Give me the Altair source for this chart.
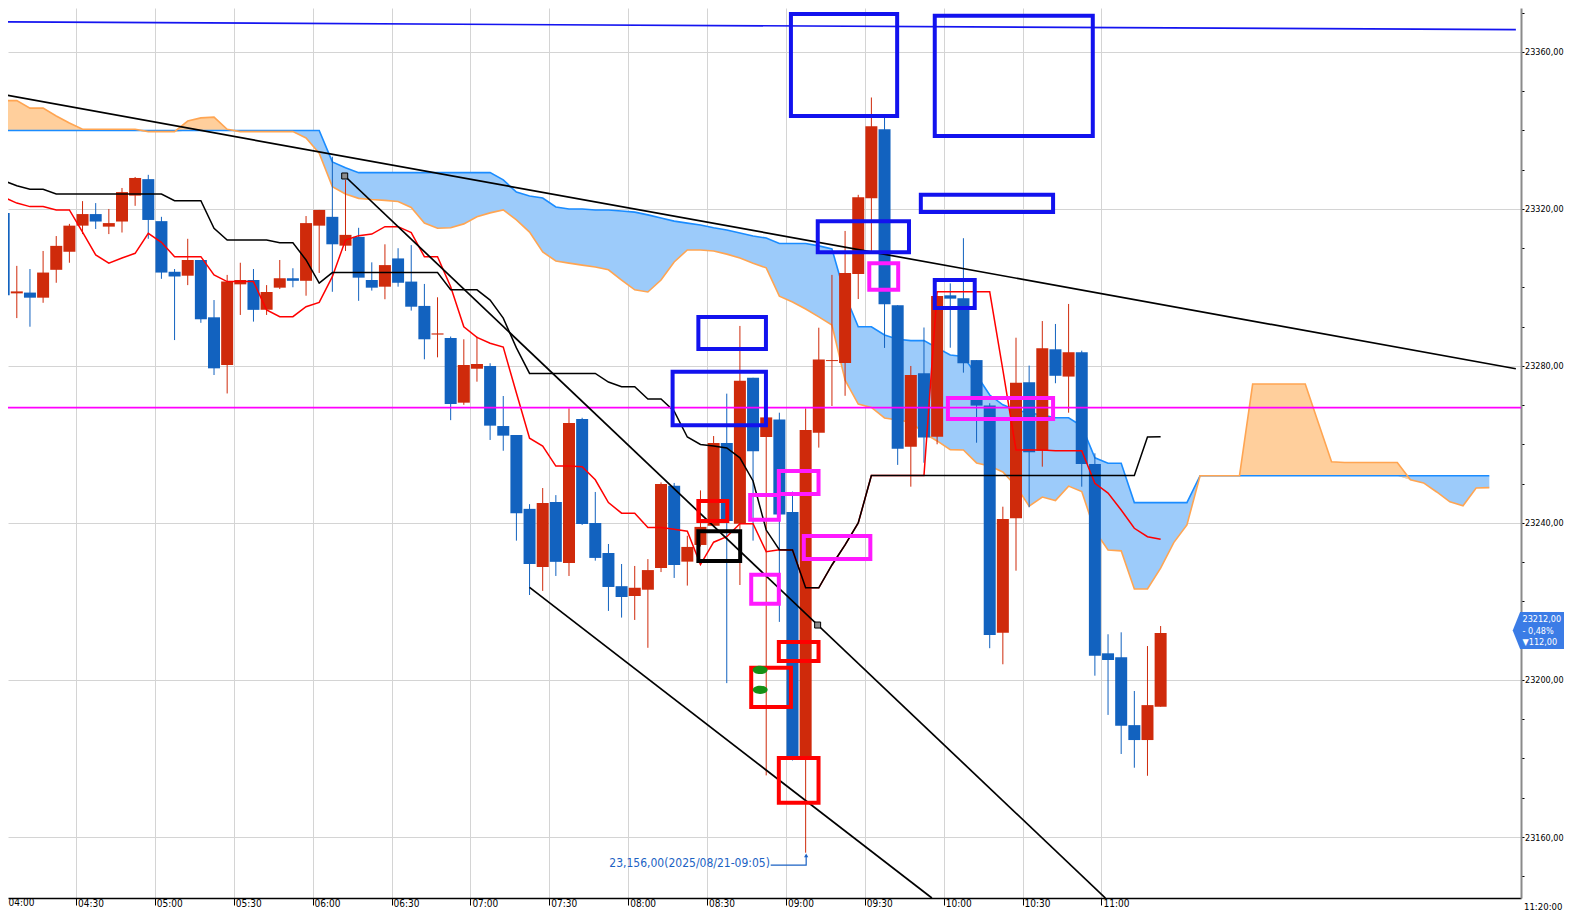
import altair as alt
import pandas as pd

# ---------------- data (5-minute bars, 2025/08/21 04:00-11:20) -------------
opens = [23319.0, 23298.5, 23298.7, 23297.4, 23304.5, 23309.1, 23315.75, 23318.7, 23315.5, 23316.8,
         23323.4, 23327.6, 23316.9, 23304.0, 23303.0, 23307.0, 23292.4, 23280.25, 23300.8, 23301.9,
         23294.3, 23299.95, 23302.35, 23301.7, 23315.75, 23318.0, 23310.65, 23312.9, 23301.9, 23300.2,
         23307.4, 23301.5, 23295.3, 23288.0, 23287.1, 23270.65, 23279.3, 23280.0, 23264.7, 23262.4,
         23243.6, 23228.8, 23245.35, 23229.8, 23266.5, 23240.0, 23232.35, 23223.9, 23221.4, 23223.0,
         23228.55, 23249.5, 23230.15, 23234.4, 23239.3, 23260.4, 23239.8, 23277.0, 23261.9, 23266.35,
         23242.8, 23180.25, 23263.0, 23281.25, 23280.75, 23303.45, 23322.75, 23340.3, 23295.5, 23259.45,
         23278.15, 23262.0, 23298.0, 23297.25, 23281.5, 23269.9, 23212.05, 23241.2, 23275.85, 23258.4,
         23284.25, 23277.3, 23283.5, 23255.0, 23206.8, 23205.8, 23188.5, 23184.7, 23193.2]
highs = [23320.0, 23305.5, 23304.7, 23309.3, 23313.1, 23316.2, 23322.0, 23321.5, 23320.0, 23325.35,
         23328.15, 23328.7, 23318.0, 23304.7, 23312.4, 23307.0, 23296.8, 23303.2, 23306.3, 23304.7,
         23300.6, 23307.0, 23304.9, 23318.2, 23319.75, 23333.3, 23327.4, 23315.2, 23306.4, 23311.0,
         23310.0, 23310.8, 23300.9, 23297.5, 23287.5, 23286.8, 23287.5, 23280.7, 23272.35, 23262.4,
         23244.8, 23248.9, 23247.1, 23269.2, 23266.8, 23247.9, 23234.65, 23229.55, 23229.05, 23230.8,
         23250.35, 23250.2, 23236.75, 23248.3, 23262.15, 23272.95, 23290.2, 23277.0, 23266.9, 23268.1,
         23248.0, 23269.2, 23289.75, 23303.2, 23314.4, 23323.6, 23348.4, 23343.25, 23295.5, 23280.0,
         23289.8, 23297.85, 23301.05, 23312.55, 23281.5, 23270.5, 23244.15, 23287.2, 23280.1, 23291.45,
         23290.7, 23295.8, 23283.9, 23257.75, 23211.65, 23212.15, 23197.2, 23208.65, 23213.75]
lows = [23297.0, 23292.2, 23290.0, 23296.1, 23301.2, 23306.3, 23313.6, 23314.9, 23313.6, 23314.0,
        23320.8, 23312.4, 23302.2, 23286.6, 23300.6, 23291.0, 23277.7, 23273.0, 23293.0, 23291.3,
        23293.0, 23299.6, 23300.05, 23297.9, 23303.7, 23298.9, 23309.3, 23296.6, 23299.2, 23297.0,
        23300.2, 23294.1, 23281.7, 23282.2, 23266.2, 23270.1, 23276.0, 23261.15, 23258.4, 23235.5,
        23221.65, 23222.7, 23226.5, 23226.5, 23239.5, 23230.4, 23217.6, 23215.9, 23215.3, 23208.2,
        23227.5, 23226.0, 23224.05, 23234.0, 23239.1, 23199.2, 23224.2, 23235.5, 23175.7, 23214.8,
        23179.5, 23156.0, 23259.2, 23269.8, 23272.4, 23297.05, 23309.0, 23284.6, 23254.8, 23249.25,
        23255.35, 23260.05, 23284.65, 23278.3, 23260.45, 23208.1, 23204.0, 23227.85, 23244.0, 23254.35,
        23275.6, 23268.1, 23249.25, 23201.1, 23191.1, 23181.15, 23177.65, 23175.6, 23193.2]
closes = [23298.0, 23299.0, 23297.4, 23303.8, 23310.6, 23315.75, 23318.7, 23316.8, 23316.4, 23324.3,
          23327.9, 23317.2, 23303.8, 23302.8, 23307.0, 23291.9, 23279.4, 23301.5, 23301.9, 23294.3,
          23298.85, 23302.35, 23301.7, 23316.4, 23319.75, 23311.0, 23313.4, 23302.5, 23299.95, 23305.7,
          23301.2, 23295.1, 23286.8, 23288.3, 23270.3, 23280.25, 23280.5, 23264.8, 23262.25, 23242.5,
          23229.55, 23245.1, 23230.1, 23265.5, 23239.75, 23231.1, 23223.7, 23221.15, 23223.5, 23228.0,
          23249.95, 23229.3, 23233.9, 23239.0, 23260.4, 23240.5, 23276.25, 23258.3, 23266.9, 23242.15,
          23180.25, 23263.7, 23281.65, 23281.5, 23303.7, 23323.0, 23341.05, 23295.75, 23258.9, 23277.7,
          23261.75, 23297.85, 23297.15, 23280.7, 23269.9, 23211.45, 23241.0, 23275.7, 23258.0, 23284.5,
          23277.5, 23283.5, 23255.0, 23206.2, 23205.1, 23188.35, 23184.7, 23193.6, 23212.0]

# Ichimoku conversion line (red) and base line (black), one value per bar
tenkan = [23323.0, 23321.5, 23320.6, 23320.6, 23319.75, 23319.75, 23314.1, 23308.3, 23306.2, 23307.5,
          23308.7, 23313.8, 23311.5, 23307.85, 23307.85, 23307.85, 23303.2, 23301.5, 23301.5, 23301.5,
          23294.3, 23292.55, 23292.55, 23295.1, 23296.2, 23302.75, 23312.1, 23313.2, 23313.6, 23315.5,
          23315.5, 23314.0, 23307.85, 23307.85, 23300.2, 23290.0, 23287.3, 23285.8, 23284.8, 23273.1,
          23261.6, 23259.6, 23254.5, 23254.5, 23254.35, 23251.0, 23245.2, 23242.5, 23242.5, 23238.85,
          23238.85, 23238.4, 23237.9, 23229.4, 23235.1, 23236.5, 23239.8, 23239.8, 23232.7, 23233.2,
          23233.1, 23223.5, 23223.5, 23229.3, 23234.4, 23240.0, 23252.1, 23252.1, 23252.1, 23252.1,
          23252.1, 23298.9, 23298.9, 23298.9, 23298.9, 23298.9, 23279.0, 23258.6, 23258.6, 23258.6,
          23258.4, 23258.4, 23258.4, 23250.1, 23247.6, 23243.3, 23238.65, 23236.5, 23235.85]
kijun = [23327.2, 23325.9, 23325.0, 23325.0, 23323.8, 23323.8, 23323.8, 23323.8, 23323.8, 23323.8,
         23323.8, 23323.8, 23323.8, 23322.1, 23322.1, 23322.1, 23315.1, 23312.1, 23312.1, 23312.1,
         23312.1, 23311.4, 23311.4, 23307.0, 23301.1, 23303.8, 23303.8, 23303.8, 23303.8, 23303.8,
         23303.8, 23303.8, 23303.8, 23303.8, 23299.4, 23299.4, 23299.4, 23296.8, 23292.2, 23284.6,
         23278.1, 23278.1, 23278.1, 23278.1, 23278.1, 23278.1, 23275.9, 23274.7, 23274.7, 23271.6,
         23271.6, 23268.5, 23261.9, 23260.0, 23259.6, 23259.1, 23256.6, 23250.7, 23238.2, 23233.2,
         23233.1, 23223.5, 23223.5, 23229.3, 23234.4, 23240.0, 23252.1, 23252.1, 23252.1, 23252.1,
         23252.1, 23252.1, 23252.1, 23252.1, 23252.1, 23252.1, 23252.1, 23252.1, 23252.1, 23252.1,
         23252.1, 23252.1, 23252.1, 23252.1, 23252.1, 23252.1, 23252.1, 23261.9, 23262.0]

# Leading spans (cloud), drawn 25 bars beyond the last candle
span_a = [23340.0] * 10 + [23340.0] * 10 + \
         [23340.0, 23340.0, 23340.0, 23340.0, 23340.0, 23332.0, 23330.5, 23329.25, 23329.25, 23329.25,
          23329.25, 23329.25, 23329.25, 23329.25, 23329.25, 23329.25, 23329.25, 23329.25, 23327.4, 23324.3,
          23323.3, 23322.8, 23320.5, 23320.0, 23320.0, 23319.75, 23319.75, 23319.5, 23319.2, 23318.5,
          23317.7, 23316.9, 23316.4, 23315.9, 23315.2, 23314.65, 23313.9, 23313.1, 23312.6, 23311.2,
          23311.2, 23311.2, 23310.6, 23309.8, 23298.1, 23290.0, 23290.0, 23287.9, 23286.8, 23286.45,
          23286.45, 23284.6, 23282.8, 23282.4, 23277.7, 23272.6, 23270.1, 23268.8, 23268.0, 23267.5,
          23266.8, 23266.8, 23264.7, 23256.6, 23255.2, 23255.2, 23245.2, 23245.2, 23245.2, 23245.2,
          23245.2, 23252.05, 23252.05, 23252.05, 23252.05, 23252.05, 23252.05, 23252.05, 23252.05, 23252.05,
          23252.05, 23252.05, 23252.05, 23252.05, 23252.05, 23252.05, 23252.05, 23252.05, 23252.05, 23252.05,
          23252.05, 23252.05, 23252.05, 23252.05]
span_b = [23347.6, 23347.6, 23345.7, 23345.7, 23343.7, 23341.9, 23340.3, 23340.3, 23340.3, 23340.3,
          23340.3, 23339.7, 23339.7, 23339.7, 23342.4, 23343.2, 23343.4, 23340.3, 23339.7, 23339.7,
          23339.7, 23339.7, 23339.7, 23338.1, 23334.2, 23325.7, 23323.8, 23322.7, 23322.4, 23322.2,
          23321.9, 23320.4, 23316.4, 23315.1, 23315.2, 23316.2, 23318.0, 23319.0, 23319.75, 23317.2,
          23314.1, 23309.05, 23306.75, 23306.2, 23305.7, 23305.2, 23304.5, 23301.9, 23299.4, 23298.85,
          23301.9, 23306.5, 23309.55, 23309.55, 23309.3, 23308.5, 23307.5, 23306.2, 23305.0, 23297.8,
          23296.3, 23294.5, 23292.5, 23290.45, 23276.4, 23270.3, 23269.45, 23266.75, 23266.25, 23265.7,
          23262.9, 23260.9, 23258.7, 23258.6, 23255.3, 23254.5, 23253.0, 23249.4, 23244.3, 23246.6,
          23245.7, 23249.4, 23248.0, 23238.0, 23233.1, 23232.9, 23223.2, 23223.2, 23228.5, 23235.0,
          23239.5, 23252.05, 23252.05, 23252.05, 23252.05, 23275.4, 23275.4, 23275.4, 23275.4, 23275.4,
          23265.5, 23255.6, 23255.4, 23255.4, 23255.4, 23255.4, 23255.4, 23251.0, 23250.2, 23247.9,
          23245.4, 23244.4, 23248.9, 23249.0]

# tick values: minutes after 04:00 for the time axis, prices for the price axis
x_ticks = [30, 60, 90, 120, 150, 180, 210, 240, 270, 300, 330, 360, 390, 420]
y_ticks = [23150, 23160, 23170, 23180, 23190, 23200, 23210, 23220, 23230, 23240, 23250, 23260,
           23270, 23280, 23290, 23300, 23310, 23320, 23330, 23340, 23350, 23360, 23370]

# drawn trend lines (minutes after 04:00, price)
trend_id = ["top", "top", "long", "long", "chan", "chan", "low", "low"]
trend_min = [3.03, 577.6, 3.03, 577.6, 132.2, 421.5, 202.5, 355.5]
trend_price = [23367.65, 23365.7, 23349.05, 23279.3, 23328.4, 23144.45, 23223.6, 23144.45]
trend_col = ["#1414f0", "#1414f0", "#000000", "#000000", "#000000", "#000000", "#000000", "#000000"]
anchor_min = [132.2, 312.06]
anchor_price = [23328.4, 23214.0]
hline_price = 23269.4

# hand-drawn annotation boxes (minutes after 04:00, prices)
box_x1 = [301.9, 356.6, 351.3, 312.1, 356.6, 266.7, 256.9, 331.7, 361.6, 297.3, 286.4, 306.8, 286.8,
          266.7, 297.3, 286.8, 297.3, 266.7]
box_x2 = [342.3, 416.7, 401.6, 346.8, 371.8, 292.4, 292.4, 342.7, 401.6, 312.4, 297.3, 332.1, 297.3,
          277.7, 312.4, 301.9, 312.4, 282.6]
box_top = [23369.7, 23369.2, 23323.6, 23316.9, 23301.9, 23292.5, 23278.5, 23306.2, 23271.85, 23253.25,
           23247.1, 23236.7, 23226.8, 23245.6, 23209.7, 23203.1, 23180.1, 23237.9]
box_bot = [23343.7, 23338.6, 23319.2, 23309.0, 23294.8, 23284.3, 23264.9, 23299.4, 23266.5, 23247.4,
           23240.8, 23230.8, 23219.4, 23240.5, 23204.85, 23193.1, 23168.7, 23230.3]
box_col = ["#1212ee"] * 7 + ["#ff1aff"] * 6 + ["#ff0000"] * 4 + ["#000000"]
dot_min = [290.2, 290.2]
dot_price = [23202.55, 23197.5]

low_label = "23,156,00(2025/08/21-09:05)"
last_lines = ["23212,00", "- 0,48%", "\u25bc112,00"]
last_price = 23212.6

# ---------------- chart ----------------
W, H = 1513, 890
FONT = "DejaVu Sans Condensed, DejaVu Sans, sans-serif"
UP, DOWN = "#cf2a0b", "#1262bf"

xs = alt.Scale(domain=[6.052, 577.65], nice=False, zero=False)
ys = alt.Scale(domain=[23144.46, 23371.2], nice=False, zero=False)

n = len(opens)
candles = pd.DataFrame({
    "m": [5 * i + 2.5 for i in range(n)],
    "time": [f"{4 + (5 * i) // 60:02d}:{(5 * i) % 60:02d}" for i in range(n)],
    "o": opens, "h": highs, "l": lows, "c": closes,
})
candles["col"] = [UP if c >= o else DOWN for o, c in zip(opens, closes)]
ind = pd.DataFrame({"m": [5 * i + 2.5 for i in range(n)], "tenkan": tenkan, "kijun": kijun})
cloud = pd.DataFrame({"m": [5 * i + 2.5 for i in range(len(span_a))], "a": span_a, "b": span_b})

x_axis = alt.Axis(values=x_ticks, title="", grid=True, gridColor="#d4d4d4", gridWidth=1,
                  domainColor="#000000", domainWidth=1.5, tickColor="#000000", tickSize=7,
                  labelExpr="timeFormat(datetime(2025, 7, 21, 4, datum.value), '%H:%M')",
                  labelAlign="left", labelBaseline="top", labelPadding=-7, labelOffset=1.5,
                  labelFont=FONT, labelFontSize=10, labelColor="#000000",
                  labelOverlap=False, labelFlush=False, labelBound=False)
y_axis = alt.Axis(values=y_ticks, orient="right", title="", grid=True, gridColor="#d4d4d4",
                  gridOpacity={"condition": {"test": "datum.value % 40 === 0", "value": 1}, "value": 0},
                  domainColor="#8a8a8a", domainWidth=2, tickColor="#000000", tickSize=3,
                  labelExpr="datum.value % 40 === 0 ? replace(format(datum.value, '.2f'), '.', ',') : ''",
                  labelAlign="left", labelBaseline="middle", labelPadding=0.5,
                  labelFont=FONT, labelFontSize=9, labelColor="#000000",
                  labelOverlap=False, labelFlush=False, labelBound=False)


def X(f):
    return alt.X(f, scale=xs, axis=x_axis)


def Y(f):
    return alt.Y(f, scale=ys, axis=y_axis)


cb = alt.Chart(cloud)
cloud_blue = cb.mark_area(color="#9ccbfa", opacity=1, clip=True).transform_calculate(
    lo="min(datum.a, datum.b)").encode(x=X("m:Q"), y=Y("a:Q"), y2="lo:Q")
cloud_orange = cb.mark_area(color="#ffcf9c", opacity=1, clip=True).transform_calculate(
    lo="min(datum.a, datum.b)").encode(x=X("m:Q"), y=Y("b:Q"), y2="lo:Q")
line_a = cb.mark_line(color="#1a8cff", strokeWidth=1.6, clip=True).encode(x=X("m:Q"), y=Y("a:Q"))
line_b = cb.mark_line(color="#ffa552", strokeWidth=1.6, clip=True).encode(x=X("m:Q"), y=Y("b:Q"))

cc = alt.Chart(candles)
wicks = cc.mark_rule(strokeWidth=1, clip=True).encode(
    x=X("m:Q"), y=Y("l:Q"), y2="h:Q", color=alt.Color("col:N", scale=None))
bodies = cc.mark_bar(size=12, clip=True).encode(
    x=X("m:Q"), y=Y("o:Q"), y2="c:Q", color=alt.Color("col:N", scale=None),
    tooltip=["time:N", "o:Q", "h:Q", "l:Q", "c:Q"])

ic = alt.Chart(ind)
red_line = ic.mark_line(color="#ff0000", strokeWidth=1.5, clip=True).encode(x=X("m:Q"), y=Y("tenkan:Q"))
black_line = ic.mark_line(color="#000000", strokeWidth=1.5, clip=True).encode(x=X("m:Q"), y=Y("kijun:Q"))

hline = alt.Chart(pd.DataFrame({"p": [hline_price]})).mark_rule(
    color="#ff00ff", strokeWidth=1.6).encode(y=Y("p:Q"))

trend = alt.Chart(pd.DataFrame({"id": trend_id, "m": trend_min, "p": trend_price, "col": trend_col})).mark_line(
    strokeWidth=1.7, clip=True).encode(x=X("m:Q"), y=Y("p:Q"), detail="id:N",
                                       color=alt.Color("col:N", scale=None))
anchors = alt.Chart(pd.DataFrame({"m": anchor_min, "p": anchor_price})).mark_point(
    shape="square", filled=True, fill="#8c8c8c", stroke="#000000", strokeWidth=1, size=36, opacity=1
).encode(x=X("m:Q"), y=Y("p:Q"))

boxes = alt.Chart(pd.DataFrame({"x1": box_x1, "x2": box_x2, "p1": box_top, "p2": box_bot,
                                "col": box_col})).mark_rect(fillOpacity=0, strokeWidth=4, clip=True).encode(
    x=X("x1:Q"), x2="x2:Q", y=Y("p1:Q"), y2="p2:Q", stroke=alt.Stroke("col:N", scale=None))
dots = alt.Chart(pd.DataFrame({"m": dot_min, "p": dot_price})).mark_point(
    shape="M-1,0A1,0.55 0 1,1 1,0A1,0.55 0 1,1 -1,0Z", filled=True, color="#159015", size=225, opacity=1
).encode(x=X("m:Q"), y=Y("p:Q"))

low_text = alt.Chart(pd.DataFrame({"m": [293.9], "p": [23153.4], "t": [low_label]})).mark_text(
    align="right", baseline="middle", font=FONT, fontSize=12, color="#1b62c4").encode(
    x=X("m:Q"), y=Y("p:Q"), text="t:N")
low_arrow = alt.Chart(pd.DataFrame({"m": [294.2, 307.7, 307.7], "p": [23152.86, 23152.86, 23155.0],
                                    "k": [0, 1, 2]})).mark_line(color="#1b62c4", strokeWidth=1.2).encode(
    x=X("m:Q"), y=Y("p:Q"), order="k:Q")
low_head = alt.Chart(pd.DataFrame({"m": [307.7], "p": [23155.3]})).mark_point(
    shape="triangle-up", filled=True, color="#1b62c4", size=18, opacity=1).encode(x=X("m:Q"), y=Y("p:Q"))

# current price tag on the price axis (kept inside the page width)
tag_box = alt.Chart(pd.DataFrame({"p1": [23217.3], "p2": [23207.9]})).mark_rect(
    color="#3b7ce6").encode(x=alt.value(1512), x2=alt.value(1556), y=Y("p1:Q"), y2="p2:Q")
tag_tip = alt.Chart(pd.DataFrame({"p": [last_price]})).mark_point(
    shape="M0.2,-1L-0.2,0L0.2,1Z", filled=True, color="#3b7ce6", size=1369, opacity=1).encode(
    x=alt.value(1508.4), y=Y("p:Q"))
tag_text = alt.Chart(pd.DataFrame({"p": [last_price] * 3, "t": last_lines, "k": [-11.5, 0, 11.5]}))
tag_layers = [
    tag_text.transform_filter(f"datum.k == {k}").mark_text(
        align="left", baseline="middle", font=FONT, fontSize=9, color="#ffffff", dy=k).encode(
        x=alt.value(1514.5), y=Y("p:Q"), text="t:N")
    for k in [-11.5, 0, 11.5]
]

end_time = alt.Chart(pd.DataFrame({"t": ["11:20:00"]})).mark_text(
    align="left", baseline="middle", font=FONT, fontSize=9.5, color="#000000").encode(
    x=alt.value(1516), y=alt.value(898.5), text="t:N")
# the 04:00 label sits at the very left edge of the time axis
first_tick = alt.Chart(pd.DataFrame({"t": ["04:00"]})).mark_text(
    align="left", baseline="top", font=FONT, fontSize=10, color="#000000").encode(
    x=alt.value(0.5), y=alt.value(H), text="t:N")

chart = alt.layer(
    cloud_blue, cloud_orange, line_a, line_b,
    wicks, bodies, red_line, black_line,
    hline, trend, anchors, boxes, dots,
    low_arrow, low_head, low_text,
    tag_box, tag_tip, *tag_layers, end_time, first_tick,
).properties(
    width=W, height=H,
    padding={"left": 0, "top": 0, "right": 43, "bottom": 12},
    autosize=alt.AutoSizeParams(type="none"),
    background="#ffffff",
).configure_view(stroke="transparent")

chart.save("out.html", embed_options={"renderer": "svg", "actions": False})
